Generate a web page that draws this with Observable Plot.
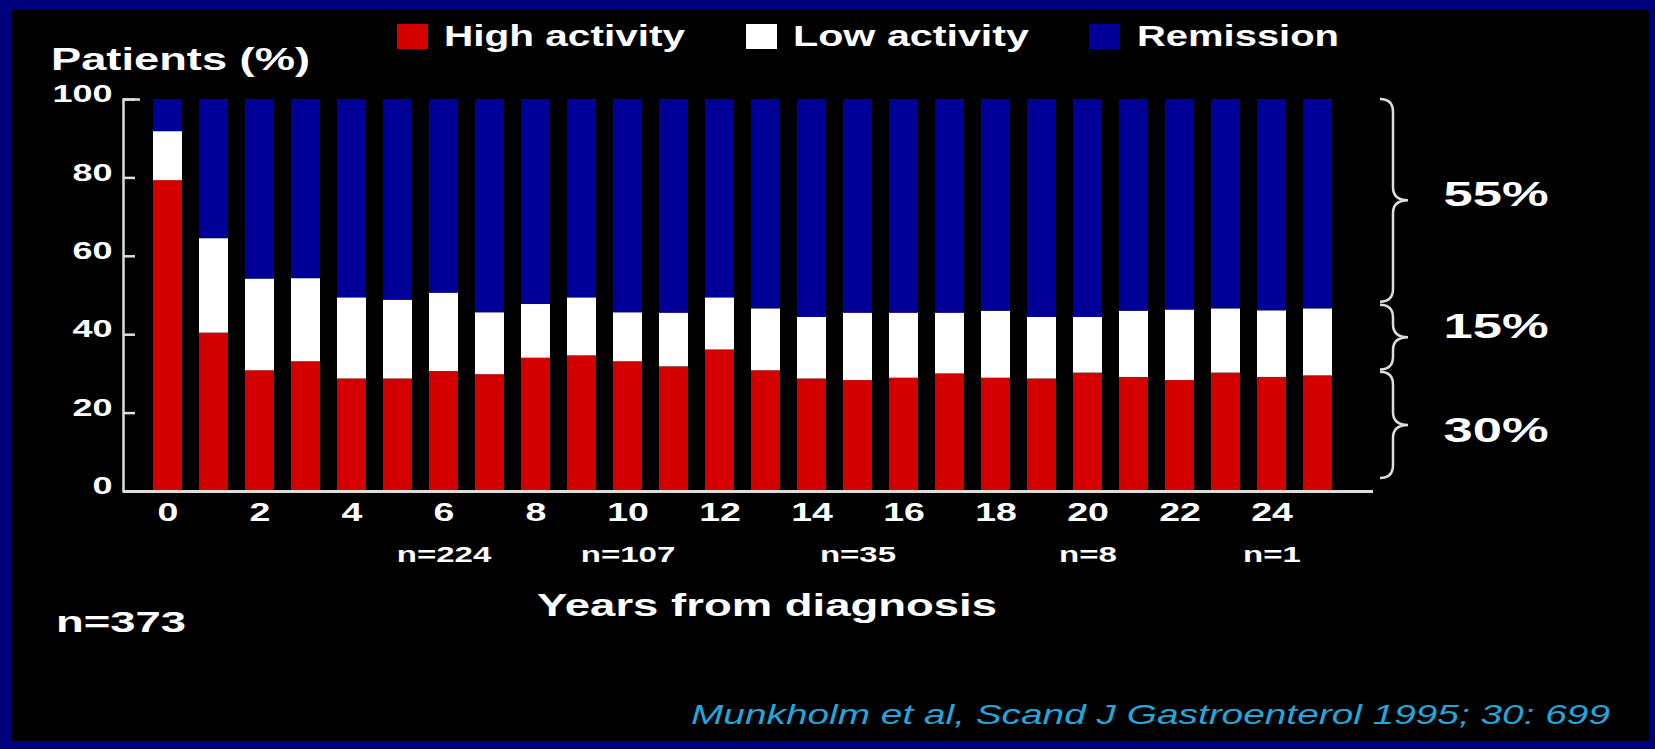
<!DOCTYPE html>
<html><head><meta charset="utf-8">
<script src="https://cdn.jsdelivr.net/npm/d3@7"></script>
<script src="https://cdn.jsdelivr.net/npm/@observablehq/plot@0.6"></script>
<style>
html,body{margin:0;padding:0;width:1655px;height:749px;overflow:hidden;background:#00007e;}
#stage{position:absolute;left:12px;top:10px;width:1637px;height:731px;background:#000;}
#chart{position:absolute;left:0;top:0;}
.t{position:absolute;white-space:nowrap;font-family:"Liberation Sans",Arial,sans-serif;font-weight:bold;color:#fff;line-height:1;transform-origin:0 0;}
.sw{position:absolute;width:31px;height:25px;}
</style></head><body>
<div id="stage"></div>
<div id="chart"></div>
<script>
// ---- data ----
const years = [0,1,2,3,4,5,6,7,8,9,10,11,12,13,14,15,16,17,18,19,20,21,22,23,24,25];
const statuses = ["High activity","Low activity","Remission"];
const statusColors = ["#d40000","#ffffff","#000098"];
const highActivity = [79.3,40.4,30.8,33.1,28.7,28.7,30.6,29.8,34.0,34.6,33.1,31.8,36.1,30.8,28.7,28.3,28.9,30.0,28.9,28.7,30.2,29.1,28.3,30.2,29.1,29.5];
const lowActivity  = [12.5,24.1,23.4,21.2,20.7,20.1,20.0,15.8,13.7,14.8,12.5,13.7,13.3,15.8,15.7,17.2,16.6,15.5,17.1,15.7,14.2,16.9,18.0,16.4,17.0,17.1];
const remission    = [8.2,35.5,45.8,45.7,50.6,51.2,49.4,54.4,52.3,50.6,54.4,54.5,50.6,53.4,55.6,54.5,54.5,54.5,54.0,55.6,55.6,54.0,53.7,53.4,53.9,53.4];
const yTicks = [0,20,40,60,80,100];
const xTickLabels = [0,2,4,6,8,10,12,14,16,18,20,22,24];
const nYears = [6,10,15,20,24];
const nLabels = ["n=224","n=107","n=35","n=8","n=1"];
const braceFrom = [100,47.5,30.4];
const braceTo = [48.3,31.0,3.3];
const braceLabelY = [75.6,41.9,15.6];
const braceLabels = ["55%","15%","30%"];

const rows = years.flatMap((yr,i)=>[
  {year:yr,status:statuses[0],value:highActivity[i]},
  {year:yr,status:statuses[1],value:lowActivity[i]},
  {year:yr,status:statuses[2],value:remission[i]}
]);

// ---- layout ----
const W=1655,H=640,ML=123,MR=282,MT=99,MB=149;
const AXIS="#dddddd";

function braceMark(index, scales, values, dims){
  const g = d3.create("svg:g").attr("aria-label","braces");
  const x0 = dims.width - dims.marginRight + 20;
  const r = 13;
  braceFrom.forEach((v,i)=>{
    const y1 = scales.y(braceFrom[i]), y2 = scales.y(braceTo[i]), ym = (y1+y2)/2;
    const p = `M${x0-r},${y1}Q${x0},${y1} ${x0},${y1+r}L${x0},${ym-r}Q${x0},${ym} ${x0+r+2},${ym}Q${x0},${ym} ${x0},${ym+r}L${x0},${y2-r}Q${x0},${y2} ${x0-r},${y2}`;
    g.append("path").attr("d",p).attr("fill","none").attr("stroke",AXIS).attr("stroke-width",2.5);
  });
  return g.node();
}

const plot = Plot.plot({
  width:W,height:H,marginLeft:ML,marginRight:MR,marginTop:MT,marginBottom:MB,
  style:{background:"transparent",color:"#fff",fontFamily:"Liberation Sans, Arial, sans-serif",fontWeight:"bold",overflow:"visible"},
  x:{type:"band",domain:years,paddingInner:0.366,paddingOuter:0.613,align:0.426,axis:null},
  y:{domain:[0,100],axis:null},
  color:{domain:statuses,range:statusColors},
  marks:[
    Plot.barY(rows,{x:"year",y:"value",fill:"status"}),
    Plot.axisY(yTicks,{tickSize:0,tickPadding:11,fontSize:24,dy:-5,label:null}),
    Plot.ruleY(yTicks,{stroke:AXIS,strokeWidth:2.5,insetRight:W-ML-MR-12}),
    Plot.ruleY([100],{stroke:AXIS,strokeWidth:2.5,insetRight:W-ML-MR-17}),
    Plot.frame({anchor:"left",stroke:AXIS,strokeWidth:2.5}),
    Plot.ruleY([0],{stroke:AXIS,strokeWidth:3}),
    Plot.axisX(xTickLabels,{tickSize:0,tickPadding:12,fontSize:25,label:null}),
    Plot.text(nLabels,{x:(d,i)=>nYears[i],text:d=>d,frameAnchor:"bottom",dy:70,fontSize:22}),
    braceMark,
    Plot.text(braceLabels,{y:(d,i)=>braceLabelY[i],text:d=>d,frameAnchor:"right",dx:70,textAnchor:"start",fontSize:35})
  ]
});

// horizontally stretched lettering like the slide
const S = 1.5;
plot.querySelectorAll("text").forEach(el=>{
  const t = el.getAttribute("transform")||"";
  const x = parseFloat(el.getAttribute("x"))||0;
  el.setAttribute("transform", `${t} translate(${x} 0) scale(${S} 1) translate(${-x} 0)`);
});
document.getElementById("chart").appendChild(plot);

// ---- legend, titles, notes ----
const swatchLeft = [397,746,1089];
statuses.forEach((s,i)=>{
  const d=document.createElement("div"); d.className="sw";
  d.style.left=swatchLeft[i]+"px"; d.style.top="24px"; d.style.background=statusColors[i];
  document.body.appendChild(d);
});
const texts = [
  {text:"Patients (%)",left:51,baseline:70,size:32,width:259},
  {text:statuses[0],left:444,baseline:47,size:29,width:241},
  {text:statuses[1],left:793,baseline:47,size:29,width:236},
  {text:statuses[2],left:1137,baseline:47,size:29,width:202},
  {text:"Years from diagnosis",left:537,baseline:616,size:32,width:460},
  {text:"n=373",left:56,baseline:633,size:29,width:130},
  {text:"Munkholm et al, Scand J Gastroenterol 1995; 30: 699",left:691,baseline:725,size:28,width:919,italic:true,color:"#22a6dc",weight:"normal"}
];
texts.forEach(t=>{
  const d=document.createElement("div"); d.className="t"; d.textContent=t.text;
  d.style.fontSize=t.size+"px"; d.style.left=t.left+"px"; d.style.top=(t.baseline-0.8465*t.size)+"px";
  if(t.italic) d.style.fontStyle="italic";
  if(t.color) d.style.color=t.color;
  if(t.weight) d.style.fontWeight=t.weight;
  document.body.appendChild(d);
  const w=d.getBoundingClientRect().width;
  d.style.transform=`scaleX(${t.width/w})`;
});
</script>
</body></html>
